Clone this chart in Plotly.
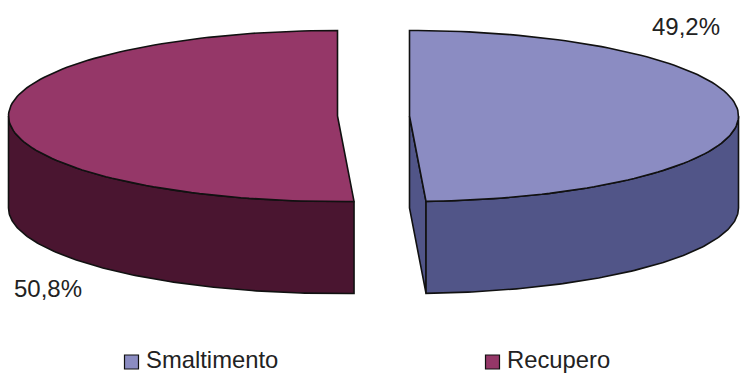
import numpy as np
import plotly.graph_objects as go

labels = ["Smaltimento", "Recupero"]
shares = [49.2, 50.8]
top_colors = ["#8B8CC2", "#953768"]
side_colors = ["#515588", "#4A1530"]

# pie geometry in page pixels (Excel style exploded 3D pie)
RX, RY, DEPTH = 329, 85.5, 92
CENTERS = {"Smaltimento": (409.5, 116), "Recupero": (337.5, 116)}
LEGEND_KEYS = {"Smaltimento": 131.5, "Recupero": 492.5}
LEGEND_Y = 362
FONT = "Liberation Sans"


def rim(cx, cy, a0, a1, n=120):
    # angles in degrees, clockwise from 12 o'clock
    t = np.radians(np.linspace(a0, a1, n))
    return cx + RX * np.sin(t), cy - RY * np.cos(t)


def poly(xs, ys, color, width=1.6):
    return go.Scatter(x=xs, y=ys, mode="lines", fill="toself", fillcolor=color,
                      line=dict(color="#111111", width=width),
                      hoverinfo="skip", showlegend=False)


split = shares[0] / sum(shares) * 360
fig = go.Figure()

# Smaltimento: 0 -> split
cx, cy = CENTERS["Smaltimento"]
ex, ey = rim(cx, cy, split, split, 1)
ax, ay = rim(cx, cy, 90, split)
fig.add_trace(poly([cx, ex[0], ex[0], cx, cx], [cy, ey[0], ey[0] + DEPTH, cy + DEPTH, cy], side_colors[0]))
fig.add_trace(poly(np.r_[ax, ax[::-1], ax[0]], np.r_[ay, ay[::-1] + DEPTH, ay[0]], side_colors[0]))
tx, ty = rim(cx, cy, 0, split)
fig.add_trace(poly(np.r_[cx, tx, cx], np.r_[cy, ty, cy], top_colors[0]))

# Recupero: split -> 360
cx, cy = CENTERS["Recupero"]
ax, ay = rim(cx, cy, split, 270)
fig.add_trace(poly(np.r_[ax, ax[::-1], ax[0]], np.r_[ay, ay[::-1] + DEPTH, ay[0]], side_colors[1]))
tx, ty = rim(cx, cy, split, 360)
fig.add_trace(poly(np.r_[cx, tx, cx], np.r_[cy, ty, cy], top_colors[1]))

# legend keys, placed by hand because the two entries sit far apart
for name, color in zip(labels, top_colors):
    fig.add_trace(go.Scatter(x=[LEGEND_KEYS[name]], y=[LEGEND_Y], mode="markers+text",
                             text=["\u2009" + name], textposition="middle right",
                             textfont=dict(family=FONT, size=23.8, color="#222222"),
                             marker=dict(symbol="square", size=14, color=color,
                                         line=dict(color="#111111", width=1.2)),
                             hoverinfo="skip", showlegend=False, cliponaxis=False))

fig.add_annotation(x=686, y=26, text=f"{shares[0]:.1f}%".replace(".", ","), showarrow=False,
                   font=dict(family=FONT, size=24, color="#222222"))
fig.add_annotation(x=48, y=288, text=f"{shares[1]:.1f}%".replace(".", ","), showarrow=False,
                   font=dict(family=FONT, size=24, color="#222222"))

fig.update_xaxes(range=[0, 741], visible=False, fixedrange=True)
fig.update_yaxes(range=[376, 0], visible=False, fixedrange=True)
fig.update_layout(
    width=741, height=376,
    margin=dict(l=0, r=0, t=0, b=0),
    plot_bgcolor="white", paper_bgcolor="white",
    font=dict(family=FONT, size=23, color="#222222"),
    showlegend=False,
)
fig.write_html("out.html", config={"displayModeBar": False},
               post_script="document.body.style.margin='0';")
